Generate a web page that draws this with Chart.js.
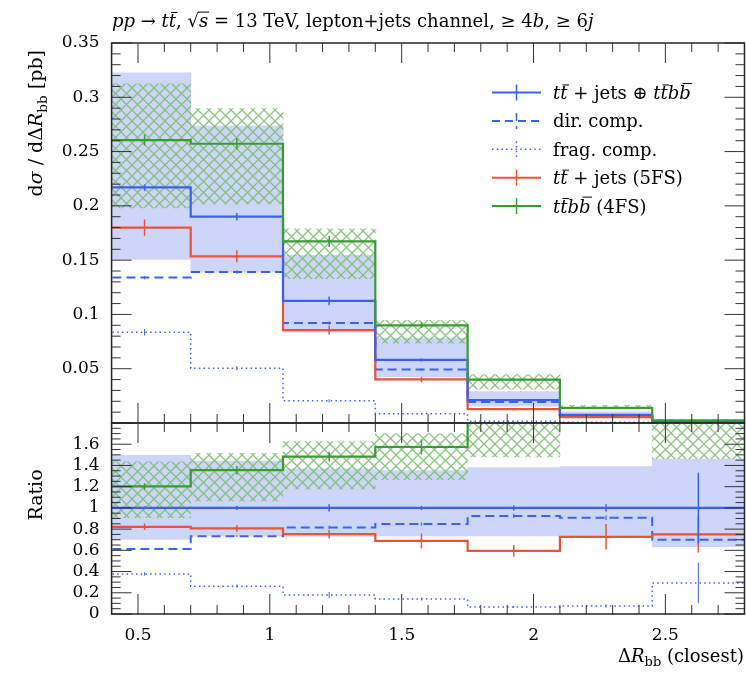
<!DOCTYPE html>
<html><head><meta charset="utf-8">
<script src="https://cdn.jsdelivr.net/npm/chart.js@4.4.1/dist/chart.umd.min.js"></script>
<style>
html,body{margin:0;padding:0;background:#fff;}
#wrap{position:relative;width:746px;height:676px;overflow:hidden;background:#fff}
canvas{position:absolute;left:0}
#top{top:0}
#ratio{top:400px}
</style></head><body>
<div id="wrap"><canvas id="top" width="746" height="460"></canvas><canvas id="ratio" width="746" height="276"></canvas></div>
<script>
// ---------------- data ----------------
const binEdges   = [0.35, 0.7, 1.05, 1.4, 1.75, 2.1, 2.45, 2.8];
const binCenters = [0.525, 0.875, 1.225, 1.575, 1.925, 2.275, 2.625];
const xTickValues = [0.5, 1, 1.5, 2, 2.5];
const xTickLabels = ['0.5', '1', '1.5', '2', '2.5'];
const yTickValuesTop = [0.05, 0.1, 0.15, 0.2, 0.25, 0.3, 0.35];
const yTickLabelsTop = ['0.05', '0.1', '0.15', '0.2', '0.25', '0.3', '0.35'];
const yTickValuesRatio = [0, 0.2, 0.4, 0.6, 0.8, 1, 1.2, 1.4, 1.6];
const yTickLabelsRatio = ['0', '0.2', '0.4', '0.6', '0.8', '1', '1.2', '1.4', '1.6'];

// main panel, dsigma/dDeltaR_bb [pb]
const combined      = [0.217, 0.190, 0.1125, 0.0582, 0.0210, 0.0074, 0.0012];
const combinedErr   = [0.003, 0.0035, 0.004, 0.0015, 0.0008, 0.0004, 0.0004];
const direct        = [0.134, 0.139, 0.0920, 0.0493, 0.0194, 0.0067, 0.00085];
const directErr     = [0.0015, 0.0015, 0.0015, 0.001, 0.0005, 0.0003, 0.0002];
const fragment      = [0.0836, 0.0505, 0.0205, 0.0085, 0.0015, 0.0006, 0.00035];
const fragmentErr   = [0.003, 0.002, 0.0015, 0.0008, 0.0003, 0.0002, 0.0002];
const ttjets5FS     = [0.180, 0.1535, 0.0855, 0.0401, 0.0127, 0.0054, 0.0009];
const ttjets5FSErr  = [0.0075, 0.0055, 0.004, 0.0025, 0.001, 0.0008, 0.0002];
const ttbb4FS       = [0.2605, 0.2572, 0.1672, 0.0900, 0.0400, 0.0140, 0.0025];
const ttbb4FSErr    = [0.005, 0.005, 0.005, 0.0025, 0.001, 0.0005, 0.0002];
const combinedBandLo = [0.1507, 0.1390, 0.0836, 0.0425, 0.0154, 0.0054, 0.00076];
const combinedBandHi = [0.3226, 0.2734, 0.1544, 0.0783, 0.0290, 0.0103, 0.00174];
const ttbbBandLo     = [0.1980, 0.2017, 0.1330, 0.0735, 0.0312, 0.0134, 0.00176];
const ttbbBandHi     = [0.3125, 0.2896, 0.1788, 0.0945, 0.0445, 0.0162, 0.0034];

// ratio panel (to tt+jets (+) ttbb)
const ratioCombined     = [1, 1, 1, 1, 1, 1, 1];
const ratioCombinedErr  = [0.012, 0.02, 0.035, 0.02, 0.025, 0.035, 0.33];
const ratioDirect       = [0.612, 0.733, 0.816, 0.848, 0.924, 0.908, 0.700];
const ratioDirectErr    = [0.01, 0.01, 0.015, 0.015, 0.02, 0.02, 0.05];
const ratioFragment     = [0.378, 0.262, 0.178, 0.142, 0.067, 0.076, 0.292];
const ratioFragmentErr  = [0.015, 0.015, 0.03, 0.015, 0.01, 0.015, 0.19];
const ratio5FS          = [0.822, 0.806, 0.752, 0.689, 0.595, 0.727, 0.750];
const ratio5FSErr       = [0.03, 0.03, 0.04, 0.07, 0.055, 0.12, 0.17];
const ratio4FS          = [1.203, 1.355, 1.483, 1.574, 1.90, 1.89, 2.10];
const ratio4FSErr       = [0.03, 0.04, 0.045, 0.07, 0.05, 0.06, 0.2];
const ratioCombinedBandLo = [0.704, 0.735, 0.730, 0.735, 0.735, 0.735, 0.634];
const ratioCombinedBandHi = [1.495, 1.440, 1.368, 1.352, 1.380, 1.390, 1.460];
const ratioTtbbBandLo     = [0.908, 1.065, 1.178, 1.267, 1.480, 1.820, 1.465];
const ratioTtbbBandHi     = [1.435, 1.515, 1.624, 1.700, 2.100, 2.200, 2.600];

// ---------------- style ----------------
const FONT = '"DejaVu Serif","Liberation Serif",serif';
const COL = {blue:'#3a62f2', red:'#e8533a', green:'#3a9a33', band:'#cdd6f8', hatch:'rgba(118,188,104,0.85)', frame:'#262626'};

function makeHatch(ctx){
  const s = 11, c = document.createElement('canvas');
  c.width = s; c.height = s;
  const g = c.getContext('2d');
  g.strokeStyle = COL.hatch; g.lineWidth = 1.3;
  g.beginPath();
  g.moveTo(-1,-1); g.lineTo(s+1,s+1);
  g.moveTo(-1,s+1); g.lineTo(s+1,-1);
  g.stroke();
  return ctx.createPattern(c,'repeat');
}

function steps(vals){
  const p = vals.map((v,i)=>({x:binEdges[i], y:v}));
  p.push({x:binEdges[vals.length], y:vals[vals.length-1]});
  return p;
}
function errs(vals, e){
  const p = [];
  vals.forEach((v,i)=>{ p.push({x:binCenters[i],y:v-e[i]},{x:binCenters[i],y:v+e[i]},{x:binCenters[i],y:null}); });
  return p;
}
function band(lo,hi){ return lo.map((l,i)=>({x:binCenters[i], y:[l,hi[i]]})); }

function lineDs(label, vals, color, dash, width, order){
  return {type:'line', label, data:steps(vals), borderColor:color, borderWidth:width, borderDash:dash,
          stepped:true, pointRadius:0, fill:false, tension:0, order};
}
function errDs(vals, e, color, width){
  return {type:'line', label:'err', data:errs(vals,e), borderColor:color, borderWidth:width,
          pointRadius:0, fill:false, spanGaps:false, order:0};
}
function bandDs(label, lo, hi, bg, order){
  return {type:'bar', label, data:band(lo,hi), backgroundColor:bg, borderWidth:0, grouped:false,
          barPercentage:1, categoryPercentage:1, order};
}

// ---------------- rich text ----------------
function segFont(s,size){ return (s.it?'italic ':'') + (s.sub? size*0.72 : size) + 'px ' + FONT; }
function richWidth(ctx, segs, size){
  let w = 0; for (const s of segs){ ctx.font = segFont(s,size); w += ctx.measureText(s.t).width; } return w;
}
function drawRich(ctx, x, y, segs, size, align){
  const total = richWidth(ctx, segs, size);
  let cx = align==='right' ? x-total : align==='center' ? x-total/2 : x;
  ctx.textBaseline = 'alphabetic'; ctx.textAlign = 'left';
  for (const s of segs){
    ctx.font = segFont(s,size);
    const w = ctx.measureText(s.t).width;
    ctx.fillText(s.t, cx, y + (s.sub ? size*0.24 : 0));
    if (s.bar){
      const h = s.bar==='root' ? size*0.80 : (s.t==='b' ? size*0.86 : size*0.78);
      const x0 = s.bar==='root' ? cx-1 : cx + w*0.3;
      const x1 = s.bar==='root' ? cx + w + 1 : cx + w + 1.5;
      ctx.save(); ctx.strokeStyle = ctx.fillStyle; ctx.lineWidth = 1;
      ctx.beginPath(); ctx.moveTo(x0, y-h); ctx.lineTo(x1, y-h); ctx.stroke(); ctx.restore();
    }
    cx += w;
  }
}

const TITLE = [{t:'pp',it:1},{t:' → '},{t:'t',it:1},{t:'t',it:1,bar:1},{t:', √'},{t:'s',it:1,bar:'root'},
  {t:' = 13 TeV, lepton+jets channel, ≥ 4'},{t:'b',it:1},{t:', ≥ 6'},{t:'j',it:1}];
const YTITLE = [{t:'d'},{t:'σ',it:1},{t:' / d'},{t:'Δ'},{t:'R',it:1},{t:'bb',sub:1},{t:' [pb]'}];
const XTITLE = [{t:'Δ'},{t:'R',it:1},{t:'bb',sub:1},{t:' (closest)'}];
const RTITLE = [{t:'Ratio'}];
const LEGEND = [
  {segs:[{t:'t',it:1},{t:'t',it:1,bar:1},{t:' + jets '},{t:'⊕'},{t:' '},{t:'t',it:1},{t:'t',it:1,bar:1},{t:'b',it:1},{t:'b',it:1,bar:1}], color:COL.blue, dash:[], w:2},
  {segs:[{t:'dir. comp.'}], color:COL.blue, dash:[8,5], w:2},
  {segs:[{t:'frag. comp.'}], color:COL.blue, dash:[1.5,3.2], w:1.5},
  {segs:[{t:'t',it:1},{t:'t',it:1,bar:1},{t:' + jets (5FS)'}], color:COL.red, dash:[], w:2},
  {segs:[{t:'t',it:1},{t:'t',it:1,bar:1},{t:'b',it:1},{t:'b',it:1,bar:1},{t:' (4FS)'}], color:COL.green, dash:[], w:2},
];

// ---------------- plugins ----------------
const framePlugin = {
  id:'frame',
  afterDatasetsDraw(chart){
    const {ctx, chartArea:a} = chart; const xs = chart.scales.x, ys = chart.scales.y;
    const cfg = chart.options.plugins.frame;
    ctx.save();
    ctx.strokeStyle = '#333'; ctx.lineWidth = 1;
    ctx.beginPath();
    for (let k=4; k<=28; k++){
      const px = xs.getPixelForValue(k/10); const L = (k%5===0) ? 20 : 9;
      ctx.moveTo(px, a.top); ctx.lineTo(px, a.top+L);
      ctx.moveTo(px, a.bottom); ctx.lineTo(px, a.bottom-L);
    }
    const n = Math.round((ys.max-ys.min)/cfg.minor);
    for (let k=0; k<=n; k++){
      const v = ys.min + k*cfg.minor; const py = ys.getPixelForValue(v);
      const r = v/cfg.major; const L = Math.abs(r-Math.round(r))<1e-6 ? 20 : 9;
      ctx.moveTo(a.left, py); ctx.lineTo(a.left+L, py);
      ctx.moveTo(a.right, py); ctx.lineTo(a.right-L, py);
    }
    ctx.stroke();
    ctx.lineWidth = 1.5; ctx.strokeStyle = COL.frame;
    ctx.strokeRect(a.left, a.top, a.right-a.left, a.bottom-a.top);
    ctx.restore();
  }
};

const topTextPlugin = {
  id:'topText',
  afterDraw(chart){
    const ctx = chart.ctx;
    ctx.save(); ctx.fillStyle = '#000';
    drawRich(ctx, 112, 26.5, TITLE, 18, 'left');
    ctx.save(); ctx.translate(42, 50); ctx.rotate(-Math.PI/2);
    drawRich(ctx, 0, 0, YTITLE, 19, 'right'); ctx.restore();
    LEGEND.forEach((row,i)=>{
      const y = 92.5 + 28.4*i;
      ctx.save(); ctx.strokeStyle = row.color; ctx.lineWidth = row.w; ctx.setLineDash(row.dash);
      ctx.beginPath(); ctx.moveTo(492, y); ctx.lineTo(541, y); ctx.stroke();
      ctx.lineWidth = 1.5; ctx.beginPath(); ctx.moveTo(516.5, y-8); ctx.lineTo(516.5, y+8); ctx.stroke();
      ctx.restore();
      ctx.fillStyle = '#000';
      drawRich(ctx, 553, y+6.5, row.segs, 18, 'left');
    });
    ctx.restore();
  }
};

const ratioTextPlugin = {
  id:'ratioText',
  afterDraw(chart){
    const ctx = chart.ctx;
    ctx.save(); ctx.fillStyle = '#000';
    ctx.save(); ctx.translate(42, 95); ctx.rotate(-Math.PI/2);
    drawRich(ctx, 0, 0, RTITLE, 19, 'center'); ctx.restore();
    drawRich(ctx, 744, 262, XTITLE, 18, 'right');
    ctx.restore();
  }
};

function options(yMin, yMax, yVals, yLabels, showX, pad, frameCfg){
  return {
    responsive:false, animation:false, devicePixelRatio:1,
    layout:{padding:pad},
    plugins:{legend:{display:false}, tooltip:{enabled:false}, title:{display:false}, frame:frameCfg},
    scales:{
      x:{type:'linear', min:0.4, max:2.8, offset:false, display:showX,
         grid:{display:false, drawTicks:false}, border:{display:false},
         afterBuildTicks:s=>{ s.ticks = xTickValues.map(v=>({value:v})); },
         afterFit:s=>{ s.height = showX ? 62 : 0; },
         ticks:{callback:(v,i)=>xTickLabels[i], font:{family:FONT,size:17}, color:'#000', padding:11, maxRotation:0, autoSkip:false}},
      y:{type:'linear', min:yMin, max:yMax,
         grid:{display:false, drawTicks:false}, border:{display:false},
         afterBuildTicks:s=>{ s.ticks = yVals.map(v=>({value:v})); },
         afterFit:s=>{ s.width = 111.6; },
         ticks:{callback:(v,i)=>yLabels[i], font:{family:FONT,size:17}, color:'#000', padding:12, autoSkip:false}}
    }
  };
}

const topCtx = document.getElementById('top').getContext('2d');
const ratioCtx = document.getElementById('ratio').getContext('2d');

new Chart(topCtx, {
  type:'line',
  data:{datasets:[
    errDs(ttbb4FS, ttbb4FSErr, COL.green, 1.5),
    errDs(combined, combinedErr, COL.blue, 1.5),
    errDs(ttjets5FS, ttjets5FSErr, COL.red, 1.5),
    errDs(direct, directErr, COL.blue, 1.2),
    errDs(fragment, fragmentErr, COL.blue, 1),
    lineDs('tt̄bb̄ (4FS)', ttbb4FS, COL.green, [], 2.2, 1),
    lineDs('tt̄ + jets ⊕ tt̄bb̄', combined, COL.blue, [], 2.2, 2),
    lineDs('tt̄ + jets (5FS)', ttjets5FS, COL.red, [], 2.2, 3),
    lineDs('dir. comp.', direct, COL.blue, [9,5], 2, 4),
    lineDs('frag. comp.', fragment, COL.blue, [1.5,3.2], 1.5, 5),
    bandDs('tt̄bb̄ (4FS) uncertainty', ttbbBandLo, ttbbBandHi, makeHatch(topCtx), 20),
    bandDs('tt̄ + jets ⊕ tt̄bb̄ uncertainty', combinedBandLo, combinedBandHi, COL.band, 30),
  ]},
  options: options(0, 0.35, yTickValuesTop, yTickLabelsTop, false, {top:43, bottom:37, left:0, right:1.5}, {minor:0.01, major:0.05}),
  plugins:[framePlugin, topTextPlugin]
});

new Chart(ratioCtx, {
  type:'line',
  data:{datasets:[
    errDs(ratio4FS, ratio4FSErr, COL.green, 1.5),
    errDs(ratioCombined, ratioCombinedErr, COL.blue, 1.5),
    errDs(ratio5FS, ratio5FSErr, COL.red, 1.5),
    errDs(ratioDirect, ratioDirectErr, COL.blue, 1.2),
    errDs(ratioFragment, ratioFragmentErr, COL.blue, 1),
    lineDs('tt̄bb̄ (4FS)', ratio4FS, COL.green, [], 2.2, 1),
    lineDs('tt̄ + jets ⊕ tt̄bb̄', ratioCombined, COL.blue, [], 2.2, 2),
    lineDs('tt̄ + jets (5FS)', ratio5FS, COL.red, [], 2.2, 3),
    lineDs('dir. comp.', ratioDirect, COL.blue, [9,5], 2, 4),
    lineDs('frag. comp.', ratioFragment, COL.blue, [1.5,3.2], 1.5, 5),
    bandDs('tt̄bb̄ (4FS) uncertainty', ratioTtbbBandLo, ratioTtbbBandHi, makeHatch(ratioCtx), 20),
    bandDs('tt̄ + jets ⊕ tt̄bb̄ uncertainty', ratioCombinedBandLo, ratioCombinedBandHi, COL.band, 30),
  ]},
  options: options(0, 1.8, yTickValuesRatio, yTickLabelsRatio, true, {top:23, bottom:0, left:0, right:1.5}, {minor:0.05, major:0.2}),
  plugins:[framePlugin, ratioTextPlugin]
});
</script>
</body></html>
